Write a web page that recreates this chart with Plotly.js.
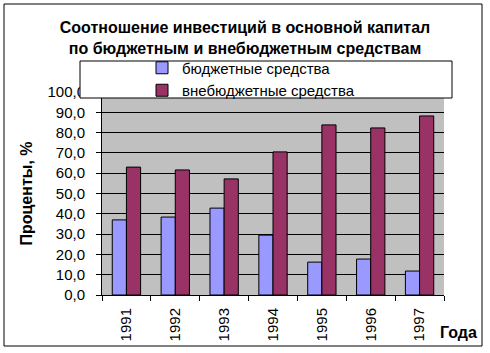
<!DOCTYPE html>
<html>
<head>
<meta charset="utf-8">
<script src="https://cdn.plot.ly/plotly-3.0.1.min.js"></script>
<style>
html,body{margin:0;padding:0;background:#fff;}
#chart{width:490px;height:353px;}
</style>
</head>
<body>
<div id="chart"></div>
<script>
const years = ['1991','1992','1993','1994','1995','1996','1997'];
const budget = [37.0, 38.4, 42.8, 29.5, 16.2, 17.7, 11.8];
const offBudget = [63.0, 61.6, 57.2, 70.5, 83.8, 82.3, 88.2];
const seriesNames = ['бюджетные средства', 'внебюджетные средства'];
const yTicks = [0,10,20,30,40,50,60,70,80,90,100];

const F = 'Liberation Sans, Arial, sans-serif';

const traces = [
  {type:'bar', x:years, y:budget, name:seriesNames[0],
   marker:{color:'#9999FF', line:{color:'#000', width:1}}},
  {type:'bar', x:years, y:offBudget, name:seriesNames[1],
   marker:{color:'#993366', line:{color:'#000', width:1}}}
];

const layout = {
  width:490, height:353,
  margin:{l:102, r:46, t:92, b:58},
  paper_bgcolor:'#fff', plot_bgcolor:'#C0C0C0',
  separators:', ',
  barmode:'group', bargap:0.42, bargroupgap:0,
  showlegend:true,
  title:{text:'<b>Соотношение инвестиций в основной капитал<br>по бюджетным и внебюджетным средствам</b>',
         font:{family:F, size:16, color:'#000'}, x:0.5, xanchor:'center', y:0.907, yanchor:'middle'},
  legend:{x:(142-102)/342, xanchor:'left', y:(295-79)/203, yanchor:'middle', bgcolor:'rgba(0,0,0,0)',
          borderwidth:0, font:{family:F, size:15, color:'#000'}, tracegroupgap:0},
  xaxis:{type:'category', tickangle:-90, ticks:'outside', tickson:'boundaries', ticklen:5,
         tickcolor:'#000', showline:true, linecolor:'#000', linewidth:1, showgrid:false,
         ticklabelstandoff:6,
         tickfont:{family:F, size:15, color:'#000'}, fixedrange:true},
  yaxis:{range:[0,100], tickvals:yTicks, tickformat:'.1f', ticks:'outside', ticklen:5, tickcolor:'#000',
         showline:true, linecolor:'#000', linewidth:1, showgrid:true, gridcolor:'#000', gridwidth:1,
         ticklabelstandoff:8,
         zeroline:false, tickfont:{family:F, size:15, color:'#000'},
         title:{text:'<b>Проценты, %</b>', font:{family:F, size:16, color:'#000'}, standoff:10}},
  annotations:[
    {text:'<b>Года</b>', xref:'paper', yref:'paper', x:(458-102)/342, y:(295-332)/203,
     xanchor:'center', yanchor:'middle', showarrow:false, font:{family:F, size:16, color:'#000'}}
  ],
  shapes:[
    {type:'rect', xref:'paper', yref:'paper', x0:(80-102)/342, x1:(452-102)/342,
     y0:(295-98)/203, y1:(295-61)/203, fillcolor:'#fff', line:{color:'#000', width:1}, layer:'above'},
    {type:'rect', xref:'paper', yref:'paper', x0:(4-102)/342, x1:(482-102)/342,
     y0:(295-346)/203, y1:(295-4)/203, fillcolor:'rgba(0,0,0,0)', line:{color:'#000', width:1}, layer:'above'}
  ]
};

Plotly.newPlot('chart', traces, layout, {displayModeBar:false, staticPlot:true});
</script>
</body>
</html>
